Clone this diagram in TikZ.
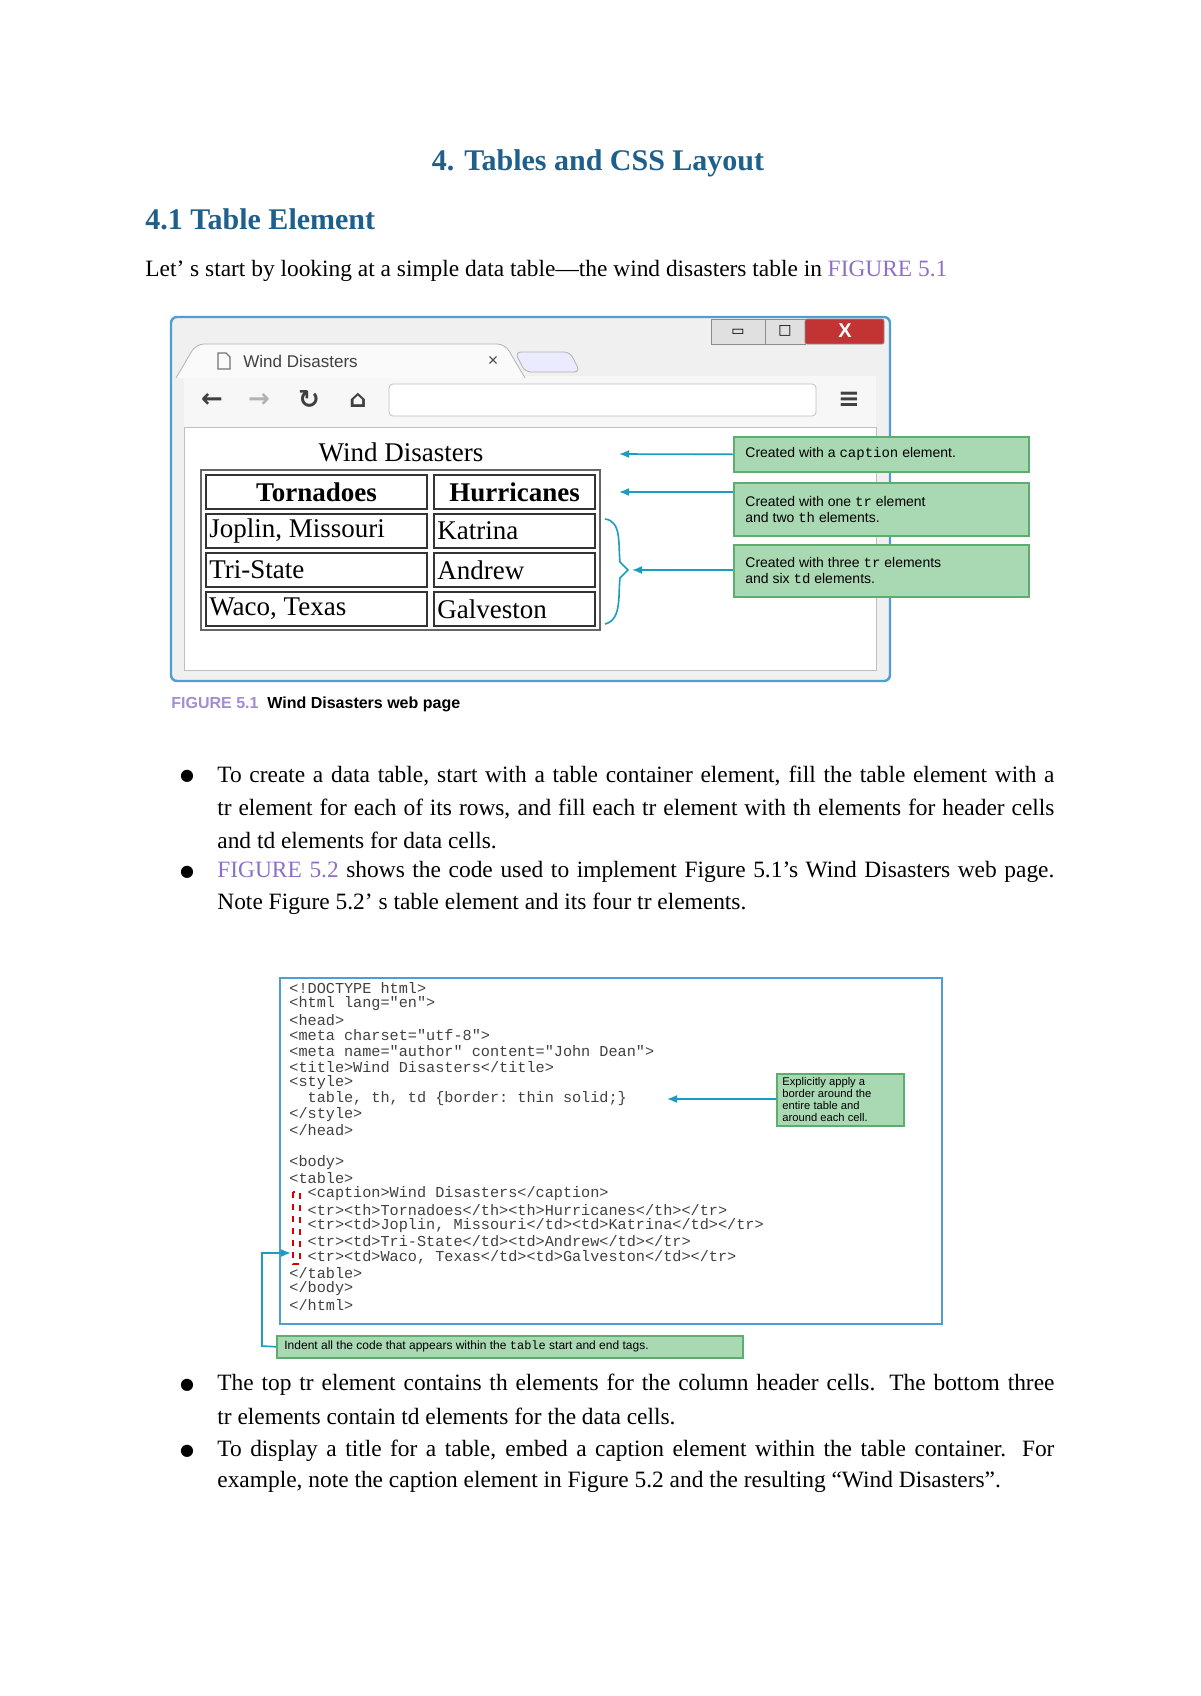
\documentclass[tikz,border=0pt]{standalone}
\usepackage{fontspec}
\setmainfont{Liberation Serif}
\setmonofont{Liberation Mono}
\newfontfamily\sansf{Liberation Sans}
\newfontfamily\dvs{DejaVu Sans}
\usetikzlibrary{arrows.meta}
\definecolor{headblue}{HTML}{1F5F8B}
\definecolor{linkc}{HTML}{8E6FC7}
\definecolor{gfill}{HTML}{A9D9B3}
\definecolor{gdraw}{HTML}{5DAE6E}
\definecolor{teal}{HTML}{1C9DC0}
\definecolor{winblue}{HTML}{4E9ED2}
\newcommand{\jl}[1]{\hbox to 418.5pt{#1}}
\tikzset{
  body/.style={anchor=west,inner sep=0pt,font=\fontsize{11.7}{13}\selectfont},
  bul/.style={inner sep=0pt,font=\dvs\fontsize{8}{10}\selectfont},
  note/.style={draw=gdraw,fill=gfill,line width=0.8pt,anchor=north west,inner sep=0pt},
  notetxt/.style={anchor=west,inner sep=0pt,align=left,font=\sansf\fontsize{7}{8}\selectfont},
  arr/.style={teal,line width=0.8pt,-{Latex[length=5pt,width=4pt]}},
  cell/.style={draw=black!80,line width=0.9pt},
  celltxt/.style={inner sep=0pt,font=\fontsize{13.5}{16}\selectfont},
  code/.style={anchor=west,inner sep=0pt,font=\ttfamily\fontsize{7.6}{8}\selectfont,text=black!75},
}
\begin{document}
\begin{tikzpicture}[x=0.5pt,y=-0.5pt]
\useasboundingbox (0,0) rectangle (1200,1696);
% headings
\node[inner sep=0pt,font=\bfseries\fontsize{15}{18}\selectfont,text=headblue] (title) at (598,163) {4. Tables and CSS Layout};
\node[anchor=west,inner sep=0pt,font=\bfseries\fontsize{15}{18}\selectfont,text=headblue] (h41) at (145,219) {4.1 Table Element};
\node[body] (intro) at (145,271) {Let’ s start by looking at a simple data table—the wind disasters table in \textcolor{linkc}{FIGURE 5.1}};
% browser window
\draw[winblue,line width=1.2pt,fill=black!6,rounded corners=3pt] (171,317) rectangle (890,681);
\fill[black!3] (184,376) rectangle (876,427);
\draw[black!30,fill=black!2,rounded corners=4pt] (176,378) -- (196,344) -- (505,344) -- (525,378);
\draw[black!30,fill=blue!8,rounded corners=3pt] (515,352) -- (570,352) -- (580,372) -- (525,372) -- cycle;
\draw[black!25,fill=white] (184,427) rectangle (876,670);
\draw[black!25,fill=white,rounded corners=2pt] (389,384) rectangle (816,416);
\draw[black!45,fill=black!12] (711,319) rectangle (765,344);
\draw[black!45,fill=black!12] (765,319) rectangle (805,344);
\draw[black!45,fill=red!70!black!80,rounded corners=1pt] (805,319) rectangle (884,344);
\node[font=\dvs\fontsize{7}{8}\selectfont] (bmin) at (738,332) {▭};
\node[font=\dvs\fontsize{7}{8}\selectfont] (bmax) at (785,331) {□};
\node[font=\sansf\bfseries\fontsize{10}{10}\selectfont,text=white] (bx) at (845,331) {X};
\draw[black!55,line width=0.6pt] (218,353) -- (226,353) -- (230,357) -- (230,369) -- (218,369) -- cycle;
\node[anchor=west,inner sep=0pt,font=\sansf\fontsize{8.5}{10}\selectfont,text=black!75] (tabt) at (243,361) {Wind Disasters};
\node[font=\sansf\fontsize{9}{10}\selectfont,text=black!70] (tabx) at (493,361) {×};
\node[font=\dvs\bfseries\fontsize{13}{14}\selectfont,text=black!75] (back) at (212,400) {←};
\node[font=\dvs\bfseries\fontsize{13}{14}\selectfont,text=black!30] (fwd) at (259,400) {→};
\node[font=\dvs\bfseries\fontsize{13}{14}\selectfont,text=black!75] (rel) at (309,400) {↻};
\node[font=\dvs\bfseries\fontsize{12}{14}\selectfont,text=black!75] (home) at (358,400) {⌂};
\node[font=\dvs\bfseries\fontsize{13}{14}\selectfont,text=black!75] (menu) at (849,400) {≡};
% table
\node[celltxt] (cap) at (401,452) {Wind Disasters};
\draw[black!60,line width=1.3pt] (201,470) rectangle (600,630);
\foreach \a/\b in {475/509,514/548,553/587,592/626}{
  \draw[cell] (206,\a) rectangle (427,\b);
  \draw[cell] (434,\a) rectangle (595,\b);
}
\node[celltxt,font=\bfseries\fontsize{13.5}{16}\selectfont] (th1) at (316.5,492) {Tornadoes};
\node[celltxt,font=\bfseries\fontsize{13.5}{16}\selectfont] (th2) at (514.5,492) {Hurricanes};
\node[celltxt,anchor=west] (c11) at (209,531) {Joplin, Missouri};
\node[celltxt,anchor=west] (c12) at (437,531) {Katrina};
\node[celltxt,anchor=west] (c21) at (209,570) {Tri-State};
\node[celltxt,anchor=west] (c22) at (437,570) {Andrew};
\node[celltxt,anchor=west] (c31) at (209,609) {Waco, Texas};
\node[celltxt,anchor=west] (c32) at (437,609) {Galveston};
% brace
\draw[teal,line width=0.8pt] (605,519) .. controls (622,521) and (618,545) .. (620,562) -- (628,570) -- (620,578) .. controls (618,595) and (622,620) .. (605,624);
\coordinate (bracetip) at (632,570);
% notes
\node[note,minimum width=147.5pt,minimum height=17.5pt] (n1) at (733,436) {};
\node[notetxt] at ([xshift=6pt]n1.west) {Created with a \texttt{caption} element.};
\node[note,minimum width=147.5pt,minimum height=26.5pt] (n2) at (733,482) {};
\node[notetxt] at ([xshift=6pt]n2.west) {Created with one \texttt{tr} element\\and two \texttt{th} elements.};
\node[note,minimum width=147.5pt,minimum height=26pt] (n3) at (733,544) {};
\node[notetxt] at ([xshift=6pt]n3.west) {Created with three \texttt{tr} elements\\and six \texttt{td} elements.};
\coordinate (a1) at (619,454);
\coordinate (a2) at (619,492);
\draw[arr] (n1.west) -- (a1);
\draw[arr] (n2.west|-a2) -- (a2);
\draw[arr] (n3.west|-bracetip) -- (bracetip);
\node[anchor=west,inner sep=0pt,font=\sansf\bfseries\fontsize{8}{10}\selectfont] (fig1) at (171,704) {\textcolor{linkc!80}{FIGURE 5.1}\ \ Wind Disasters web page};
% bullets
\foreach \y in {776,872,1385,1451}{\node[bul] at (187,\y) {●};}
\node[body] (b1a) at (217,776) {\jl{To create a data table, start with a table container element, fill the table element with a}};
\node[body] (b1b) at (217,809) {\jl{tr element for each of its rows, and fill each tr element with th elements for header cells}};
\node[body] (b1c) at (217,840) {and td elements for data cells.};
\node[body] (b2a) at (217,872) {\jl{\textcolor{linkc}{FIGURE 5.2} shows the code used to implement Figure 5.1’s Wind Disasters web page.}};
\node[body] (b2b) at (217,904) {Note Figure 5.2’ s table element and its four tr elements.};
% code box
\draw[winblue,line width=0.8pt] (280,978) rectangle (942,1324);
\foreach \k/\t in {
0/{<!DOCTYPE html>},1/{<html lang="en">},2/{<head>},3/{<meta charset="utf-8">},
4/{<meta name="author" content="John Dean">},5/{<title>Wind Disasters</title>},
6/{<style>},7/{\ \ table, th, td \{border: thin solid;\}},8/{</style>},9/{</head>},
11/{<body>},12/{<table>},13/{\ \ <caption>Wind Disasters</caption>},
14/{\ \ <tr><th>Tornadoes</th><th>Hurricanes</th></tr>},
15/{\ \ <tr><td>Joplin, Missouri</td><td>Katrina</td></tr>},
16/{\ \ <tr><td>Tri-State</td><td>Andrew</td></tr>},
17/{\ \ <tr><td>Waco, Texas</td><td>Galveston</td></tr>},
18/{</table>},19/{</body>},20/{</html>}}{
  \node[code] at (289,988+15.84*\k) {\t};
}
\draw[red!85!black,dashed,line width=0.6pt] (293,1192) rectangle (300,1264);
\node[note,minimum width=63.5pt,minimum height=26pt] (n4) at (776,1073) {};
\node[notetxt,font=\sansf\fontsize{5.6}{6}\selectfont] at ([xshift=3pt]n4.west) {Explicitly apply a\\border around the\\entire table and\\around each cell.};
\coordinate (a4) at (667,1099);
\draw[arr] (n4.west|-a4) -- (a4);
\node[note,minimum width=233pt,minimum height=11pt] (n5) at (276,1335) {};
\node[notetxt,font=\sansf\fontsize{6}{7}\selectfont] at ([xshift=4pt]n5.west) {Indent all the code that appears within the \texttt{table} start and end tags.};
\coordinate (a5) at (291,1253);
\draw[arr] (n5.west) -- (262,1346) -- (262,1253) -- (a5);
% bullets 2
\node[body] (b3a) at (217,1385) {\jl{The top tr element contains th elements for the column header cells. The bottom three}};
\node[body] (b3b) at (217,1416) {tr elements contain td elements for the data cells.};
\node[body] (b4a) at (217,1451) {\jl{To display a title for a table, embed a caption element within the table container. For}};
\node[body] (b4b) at (217,1482) {example, note the caption element in Figure 5.2 and the resulting “Wind Disasters”.};
\end{tikzpicture}
\end{document}
